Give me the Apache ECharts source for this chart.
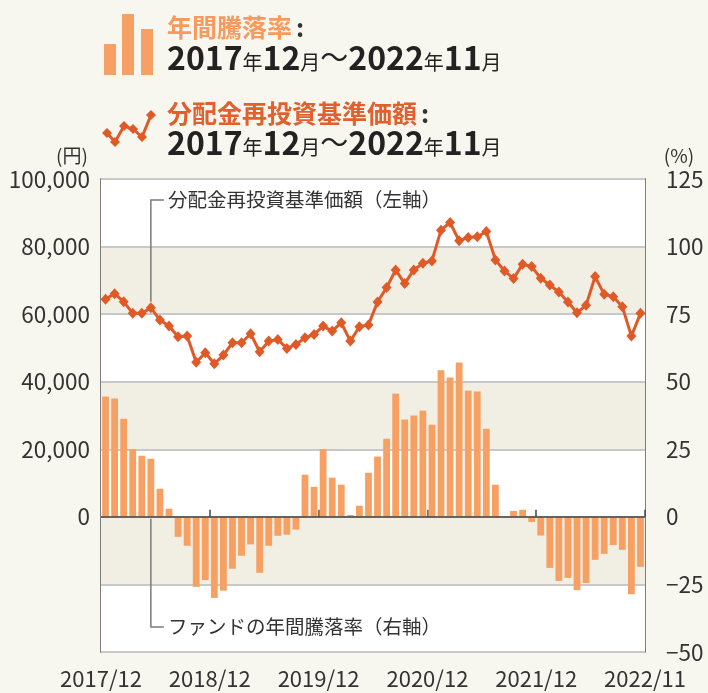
<!DOCTYPE html>
<html lang="ja">
<head>
<meta charset="utf-8">
<title>年間騰落率 / 分配金再投資基準価額</title>
<script src="https://cdn.jsdelivr.net/npm/echarts@6/dist/echarts.min.js"></script>
<style>
  html, body { margin: 0; padding: 0; background: #f8f7ef; }
  #chart { width: 708px; height: 693px; }
</style>
</head>
<body>
<div id="chart"></div>
<script>
// months 2017/12 .. 2022/11
const months = [
  "2017/12","2018/01","2018/02","2018/03","2018/04","2018/05","2018/06","2018/07","2018/08","2018/09","2018/10","2018/11",
  "2018/12","2019/01","2019/02","2019/03","2019/04","2019/05","2019/06","2019/07","2019/08","2019/09","2019/10","2019/11",
  "2019/12","2020/01","2020/02","2020/03","2020/04","2020/05","2020/06","2020/07","2020/08","2020/09","2020/10","2020/11",
  "2020/12","2021/01","2021/02","2021/03","2021/04","2021/05","2021/06","2021/07","2021/08","2021/09","2021/10","2021/11",
  "2021/12","2022/01","2022/02","2022/03","2022/04","2022/05","2022/06","2022/07","2022/08","2022/09","2022/10","2022/11"
];

// fund yearly change (%), right axis
const annualChange = [
  44.5, 43.8, 36.3, 25.1, 22.6, 21.5, 10.4, 3.0,
  -7.4, -10.7, -25.9, -23.4, -30.0, -27.3, -19.2, -14.4, -10.2, -20.7, -10.7, -7.0, -6.6, -4.7,
  15.6, 11.1, 25.1, 14.5, 11.9, 0.7, 4.1, 16.3,
  22.3, 28.9, 45.6, 36.0, 37.5, 39.3, 34.1, 54.2, 51.6, 57.1, 46.7, 46.4, 32.6, 11.9,
  0, 2.2, 2.6,
  -1.9, -6.9, -18.9, -23.7, -22.6, -27.1, -24.5, -15.9, -13.7, -10.4, -12.2, -28.6, -18.5
];

// NAV with dividends reinvested (yen), left axis
const navReinvested = [
  64380, 66070, 63700, 60230, 60230, 61920, 58250, 56470, 53310, 53500,
  45780, 48570, 45300, 47870, 51530, 51530, 54200, 48860, 52020, 52510,
  49850, 51030, 53010, 54000, 56470, 54990, 57460, 52020, 56280, 56820,
  63580, 67850, 73080, 69040, 73080, 75070, 75750, 84850, 87130, 81690,
  82680, 82880, 84470, 76050, 72790, 70520, 74770, 74080, 70620, 68630,
  66560, 63580, 60430, 62600, 71120, 65870, 65180, 62220, 53500, 60230
];

const xTickLabels = ["2017/12", "2018/12", "2019/12", "2020/12", "2021/12", "2022/11"];

const FONT = '"Noto Sans CJK JP", "Noto Sans", sans-serif';
const BAR = "#f7a063";
const LINE = "#e05a28";
const TXT = "#333333";

const chart = echarts.init(document.getElementById("chart"), null, { renderer: "canvas" });

const iconPts = [[107, 133], [115, 142], [124, 126], [133, 129], [142, 137], [151, 115]];

const legendGraphics = [
  // bar legend icon
  { type: "rect", shape: { x: 104, y: 44, width: 12, height: 31 }, style: { fill: BAR } },
  { type: "rect", shape: { x: 122, y: 14, width: 12, height: 61 }, style: { fill: BAR } },
  { type: "rect", shape: { x: 141, y: 29, width: 12, height: 46 }, style: { fill: BAR } },
  // line legend icon
  { type: "polyline", shape: { points: iconPts }, style: { stroke: LINE, lineWidth: 3, fill: null } },
  ...iconPts.map((p) => ({
    type: "polygon",
    shape: { points: [[p[0], p[1] - 5], [p[0] + 5, p[1]], [p[0], p[1] + 5], [p[0] - 5, p[1]]] },
    style: { fill: LINE }
  })),
  {
    type: "text", x: 167, y: 27,
    style: {
      text: "{t|年間騰落率}{c|:}",
      verticalAlign: "middle",
      rich: {
        t: { fontFamily: FONT, fontSize: 25, fontWeight: "bold", fill: "#f79a5e" },
        c: { fontFamily: FONT, fontSize: 25, fontWeight: "bold", fill: "#333", padding: [0, 0, 0, 4] }
      }
    }
  },
  {
    type: "text", x: 167, y: 113,
    style: {
      text: "{t|分配金再投資基準価額}{c|:}",
      verticalAlign: "middle",
      rich: {
        t: { fontFamily: FONT, fontSize: 25, fontWeight: "bold", fill: "#e0602e" },
        c: { fontFamily: FONT, fontSize: 25, fontWeight: "bold", fill: "#333", padding: [0, 0, 0, 4] }
      }
    }
  },
  ...[58, 143].map((yy) => ({
    type: "text", x: 167, y: yy,
    style: {
      text: "{n|2017}{k|年}{n|12}{k|月}{w|〜}{n|2022}{k|年}{n|11}{k|月}",
      verticalAlign: "middle",
      rich: {
        n: { fontFamily: FONT, fontSize: 32, fontWeight: "bold", fill: "#222", verticalAlign: "bottom" },
        k: { fontFamily: FONT, fontSize: 20, fill: "#222", verticalAlign: "bottom", padding: [0, 0, 2, 0] },
        w: { fontFamily: FONT, fontSize: 28, fontWeight: "normal", fill: "#222", verticalAlign: "bottom", padding: [0, 0, 3, 0] }
      }
    }
  })),
  { type: "text", x: 72, y: 156, style: { text: "(円)", fontFamily: FONT, fontSize: 19, fill: TXT, align: "center", verticalAlign: "middle" } },
  { type: "text", x: 679, y: 156, style: { text: "(%)", fontFamily: FONT, fontSize: 19, fill: TXT, align: "center", verticalAlign: "middle" } }
];

chart.setOption({
  backgroundColor: "#f8f7ef",
  animation: false,
  textStyle: { fontFamily: FONT },
  grid: { left: 101, right: 63, top: 179, bottom: 41, show: true, borderColor: "#555", borderWidth: 1.5, backgroundColor: "#fff" },
  xAxis: [
    {
      type: "category",
      data: months,
      boundaryGap: true,
      axisLine: { show: false },
      axisLabel: { show: false },
      axisTick: {
        show: true, inside: true, length: 7,
        interval: (i) => i > 0 && i % 12 === 0,
        lineStyle: { color: "#444", width: 1.5 }
      },
      splitLine: { show: false }
    },
    {
      type: "value",
      position: "bottom",
      min: 0, max: 60, interval: 12,
      axisLine: { show: false },
      axisTick: { show: false },
      splitLine: { show: false },
      axisLabel: {
        color: TXT, fontSize: 22, margin: 16, fontFamily: FONT,
        formatter: (v) => xTickLabels[Math.round(v / 12)]
      }
    }
  ],
  yAxis: [
    {
      type: "value",
      min: -40000, max: 100000, interval: 20000,
      axisLine: { show: false },
      axisTick: { show: false },
      axisLabel: {
        color: TXT, fontSize: 22.5, margin: 11, fontFamily: FONT,
        formatter: (v) => (v < 0 ? "" : v.toLocaleString("en-US"))
      },
      splitLine: { show: true, lineStyle: { color: "#c8c8c8", width: 2 } },
      splitArea: { show: true, areaStyle: { color: ["#ffffff", "#f1efe3"] } }
    },
    {
      type: "value",
      min: -50, max: 125, interval: 25,
      axisLine: { show: false },
      axisTick: { show: false },
      axisLabel: {
        color: TXT, fontSize: 22.5, margin: 21, fontFamily: FONT,
        formatter: (v) => (v < 0 ? "\u2212" + Math.abs(v) : String(v))
      },
      splitLine: { show: false },
      splitArea: { show: false }
    }
  ],
  series: [
    {
      name: "ファンドの年間騰落率",
      type: "bar",
      xAxisIndex: 0,
      yAxisIndex: 1,
      data: annualChange,
      barWidth: 6.8,
      itemStyle: { color: BAR },
      z: 2,
      markLine: {
        silent: true,
        symbol: "none",
        label: { show: false },
        lineStyle: { color: "#444", width: 1.5, type: "solid" },
        data: [{ yAxis: 0 }]
      }
    },
    {
      name: "分配金再投資基準価額",
      type: "line",
      xAxisIndex: 0,
      yAxisIndex: 0,
      data: navReinvested,
      symbol: "diamond",
      symbolSize: [10, 11],
      showAllSymbol: true,
      lineStyle: { color: LINE, width: 3 },
      itemStyle: { color: LINE },
      z: 5
    }
  ],
  graphic: legendGraphics
});

// annotations with leader lines, anchored to the 6th month
const ax = chart.convertToPixel({ xAxisIndex: 0 }, 5);
const navY = chart.convertToPixel({ yAxisIndex: 0 }, navReinvested[5]);
const zeroY = chart.convertToPixel({ yAxisIndex: 1 }, 0);
const leader = { stroke: "#7a7a7a", lineWidth: 1.5, fill: null };

chart.setOption({
  graphic: legendGraphics.concat([
    { type: "polyline", shape: { points: [[ax, navY - 6], [ax, 200], [ax + 13, 200]] }, style: leader, z: 10 },
    { type: "text", x: 168, y: 200, z: 10, style: { text: "分配金再投資基準価額（左軸）", fontFamily: FONT, fontSize: 19.5, fill: TXT, verticalAlign: "middle" } },
    { type: "polyline", shape: { points: [[ax, zeroY + 2], [ax, 627], [ax + 13, 627]] }, style: leader, z: 10 },
    { type: "text", x: 168, y: 627, z: 10, style: { text: "ファンドの年間騰落率（右軸）", fontFamily: FONT, fontSize: 19.5, fill: TXT, verticalAlign: "middle" } }
  ])
});
</script>
</body>
</html>
